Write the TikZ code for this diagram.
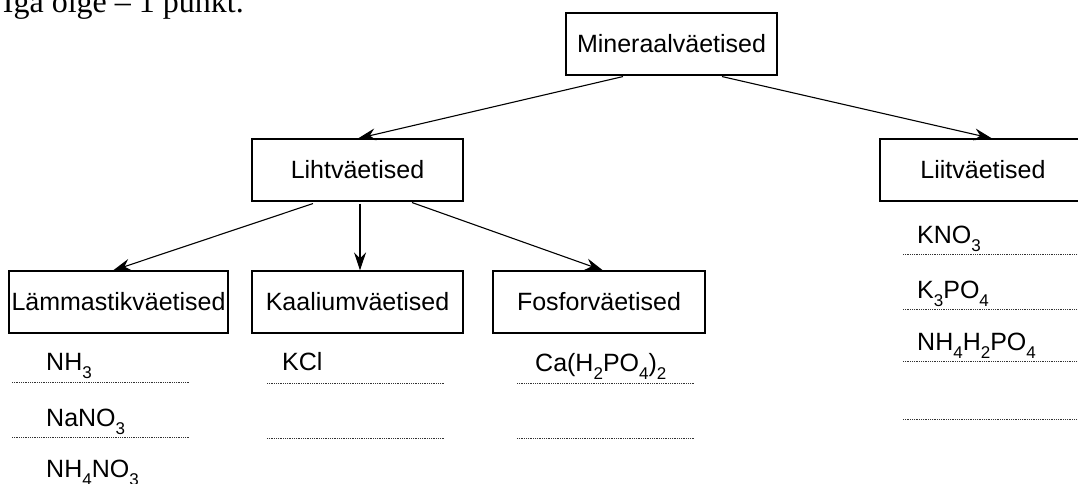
\documentclass[tikz,border=0pt]{standalone}
\usepackage{fontspec}
\setmainfont{Liberation Sans}
\newfontfamily\timesfont{Liberation Serif}
\usetikzlibrary{arrows.meta,calc}
\newcommand{\chsub}[1]{\raisebox{-8.5pt}{\fontsize{17}{17}\selectfont #1}}
\tikzset{
  box/.style={draw, line width=1.1pt, inner sep=0pt, minimum height=62pt,
    font=\fontsize{25}{25}\selectfont},
  arr/.style={line width=1.1pt, -{Stealth[length=18pt,width=12pt,inset=6pt]}},
  formula/.style={anchor=base west, inner sep=0pt, font=\fontsize{25}{25}\selectfont},
  blank/.style={line width=0.6pt, dash pattern=on 0.6pt off 1.2pt, black!80}
}
\begin{document}
\begin{tikzpicture}[x=1pt,y=-1pt]
\clip (0,0) rectangle (1078,484);
\fill[white] (0,0) rectangle (1078,484);
% heading (cut off at the top, as in the reference)
\node[anchor=base east, inner sep=0pt, font=\timesfont\fontsize{32}{32}\selectfont] (head) at (244,13) {Iga õige – 1 punkt.};
% boxes
\node[box, minimum width=211pt] (min)  at (671.5,44) {Mineraalväetised};
\node[box, minimum width=211pt] (liht) at (357.5,170) {Lihtväetised};
\node[box, minimum width=206pt] (liit) at (983,170) {Liitväetised};
\node[box, minimum width=219pt] (lamm) at (118.5,302) {Lämmastikväetised};
\node[box, minimum width=211pt] (kaal) at (357.5,302) {Kaaliumväetised};
\node[box, minimum width=212pt] (fosf) at (599,302) {Fosforväetised};
% arrows
\draw[arr] ($(min.south)+(-48.5,1)$) -- ($(liht.north)+(0.5,0)$);
\draw[arr] ($(min.south)+(50.5,1)$) -- ($(liit.north)+(9,0)$);
\draw[arr] ($(liht.south)+(-44.5,2)$) -- ($(lamm.north)+(-5.5,0)$);
\draw[arr] ($(liht.south)+(2.5,2)$) -- ($(kaal.north)+(2.5,0)$);
\draw[arr] ($(liht.south)+(54.5,1)$) -- ($(fosf.north)+(4,0)$);
% Lämmastikväetised column
\node[formula] (f1) at (46,370) {NH\chsub{3}};
\node[formula] (f2) at (46,426) {NaNO\chsub{3}};
\node[formula] (f3) at (46,477) {NH\chsub{4}NO\chsub{3}};
\draw[blank] (12,382) -- (190,382);
\draw[blank] (12,437) -- (190,437);
% Kaaliumväetised column
\node[formula] (f4) at (282,370) {KCl};
\draw[blank] (267,383) -- (445,383);
\draw[blank] (267,438) -- (445,438);
% Fosforväetised column
\node[formula] (f5) at (535,371) {Ca(H\chsub{2}PO\chsub{4})\chsub{2}};
\draw[blank] (517,383) -- (695,383);
\draw[blank] (517,438) -- (695,438);
% Liitväetised column
\node[formula] (f6) at (917,243) {KNO\chsub{3}};
\node[formula] (f7) at (917,298) {K\chsub{3}PO\chsub{4}};
\node[formula] (f8) at (917,350) {NH\chsub{4}H\chsub{2}PO\chsub{4}};
\draw[blank] (903,254) -- (1078,254);
\draw[blank] (903,309) -- (1078,309);
\draw[blank] (903,361) -- (1078,361);
\draw[blank] (903,419) -- (1078,419);
\end{tikzpicture}
\end{document}
